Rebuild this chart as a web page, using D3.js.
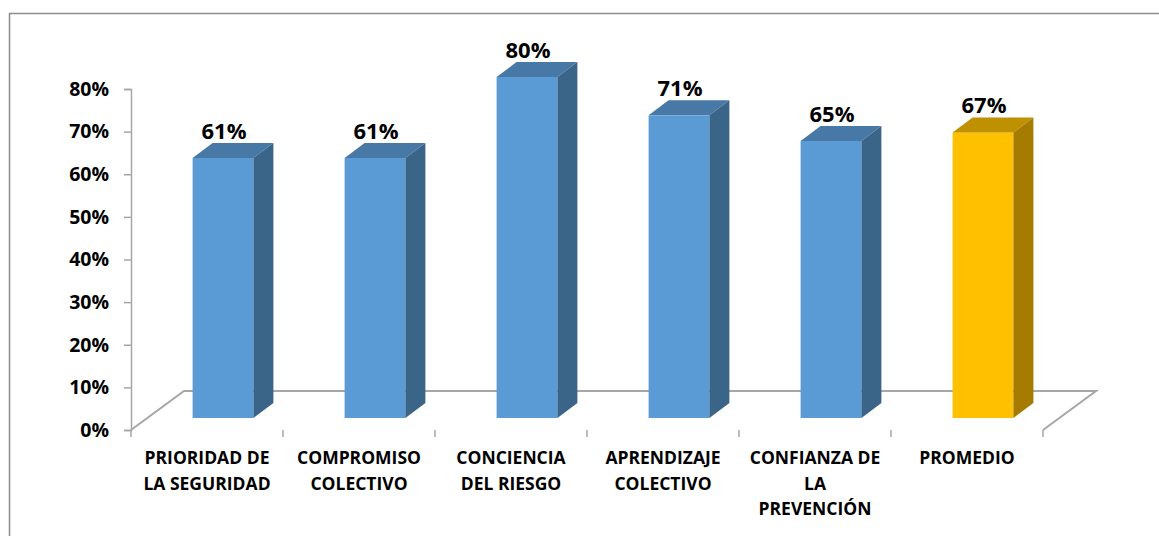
<!DOCTYPE html>
<html>
<head>
<meta charset="utf-8">
<script src="https://cdn.jsdelivr.net/npm/d3@7"></script>
<style>
  body { margin: 0; background: #fff; }
  text { font-family: 'Open Sans', sans-serif; font-weight: bold; fill: #000; }
</style>
</head>
<body>
<script>
(function () {
  'use strict'

  // data
  var categories = [
    ['PRIORIDAD DE', 'LA SEGURIDAD'],
    ['COMPROMISO', 'COLECTIVO'],
    ['CONCIENCIA', 'DEL RIESGO'],
    ['APRENDIZAJE', 'COLECTIVO'],
    ['CONFIANZA DE', 'LA', 'PREVENCIÓN'],
    ['PROMEDIO']
  ]
  var values = [0.61, 0.61, 0.80, 0.71, 0.65, 0.67]
  var highlight = [false, false, false, false, false, true]
  var yTicks = [0, 0.1, 0.2, 0.3, 0.4, 0.5, 0.6, 0.7, 0.8]

  var w = 1159
  var h = 536

  var blue = { front: '#5B9BD5', top: '#4878A6', side: '#3A6488' }
  var gold = { front: '#FFC000', top: '#BF9000', side: '#A67C00' }

  // floor depth and bar placement inside it
  var floorDx = 53
  var floorDy = -39
  var offDx = 16
  var offDy = -12
  var depDx = 20
  var depDy = -15

  var x = d3.scaleBand()
    .domain(d3.range(categories.length))
    .range([131, 1043])
  var y = d3.scaleLinear()
    .domain([0, 0.8])
    .range([430, 89])

  var svg = d3.select('body').append('svg')
    .attr('width', w)
    .attr('height', h)

  // outer frame (left and top edges visible)
  svg.append('path')
    .attr('d', 'M9.5,' + h + 'V13.5H' + w)
    .attr('fill', 'none')
    .attr('stroke', '#8c8c8c')
    .attr('stroke-width', 1.5)

  // floor
  var x0 = x.range()[0]
  var x1 = x.range()[1]
  var y0 = y(0)
  svg.append('path')
    .attr('d', 'M' + x0 + ',' + y0 + 'L' + (x0 + floorDx) + ',' + (y0 + floorDy) +
      'H' + (x1 + floorDx) + 'L' + x1 + ',' + y0)
    .attr('fill', 'none')
    .attr('stroke', '#a6a6a6')
    .attr('stroke-width', 2)

  // y axis
  var yAxis = svg.append('g')
    .attr('transform', 'translate(' + x0 + ',0)')
    .call(d3.axisLeft(y).tickValues(yTicks).tickFormat(d3.format('.0%'))
      .tickSize(7).tickPadding(15))
  yAxis.select('.domain').attr('stroke', '#a6a6a6').attr('stroke-width', 1.5)
  yAxis.selectAll('.tick line').attr('stroke', '#a6a6a6').attr('stroke-width', 1.5)
  yAxis.selectAll('.tick text')
    .attr('font-family', null)
    .style('font-size', '19.5px')

  // x axis ticks at band edges
  var edges = d3.range(categories.length + 1).map(function (i) {
    return x0 + i * x.step()
  })
  svg.selectAll('.xtick')
    .data(edges)
    .enter().append('line')
      .attr('class', 'xtick')
      .attr('x1', function (d) { return d })
      .attr('x2', function (d) { return d })
      .attr('y1', y0)
      .attr('y2', y0 + 7)
      .attr('stroke', '#a6a6a6')
      .attr('stroke-width', 1.5)

  // bars
  var bw = x.bandwidth() * 0.4
  var bars = svg.selectAll('.bar')
    .data(values)
    .enter().append('g')
      .attr('class', 'bar')

  function left (d, i) { return x(i) + x.bandwidth() / 2 + offDx - bw / 2 }
  function top (d) { return y(d) + offDy }
  var base = y0 + offDy

  bars.append('rect')
    .attr('x', left)
    .attr('y', top)
    .attr('width', bw)
    .attr('height', function (d) { return base - top(d) })
    .attr('fill', function (d, i) { return (highlight[i] ? gold : blue).front })

  bars.append('path')
    .attr('d', function (d, i) {
      var l = left(d, i)
      var t = top(d)
      return 'M' + l + ',' + t + 'L' + (l + depDx) + ',' + (t + depDy) +
        'H' + (l + bw + depDx) + 'L' + (l + bw) + ',' + t + 'Z'
    })
    .attr('fill', function (d, i) { return (highlight[i] ? gold : blue).top })

  bars.append('path')
    .attr('d', function (d, i) {
      var r = left(d, i) + bw
      var t = top(d)
      return 'M' + r + ',' + t + 'L' + (r + depDx) + ',' + (t + depDy) +
        'V' + (base + depDy) + 'L' + r + ',' + base + 'Z'
    })
    .attr('fill', function (d, i) { return (highlight[i] ? gold : blue).side })

  // value labels
  bars.append('text')
    .attr('x', function (d, i) { return left(d, i) + bw / 2 + 1 })
    .attr('y', function (d) { return top(d) + depDy - 4 })
    .attr('text-anchor', 'middle')
    .style('font-size', '22px')
    .text(function (d) { return d3.format('.0%')(d) })

  // category labels
  svg.selectAll('.cat')
    .data(categories)
    .enter().append('text')
      .attr('class', 'cat')
      .attr('text-anchor', 'middle')
      .style('font-size', '17.5px')
      .attr('transform', function (d, i) {
        return 'translate(' + (x(i) + x.bandwidth() / 2) + ',464)'
      })
    .selectAll('tspan')
    .data(function (d) { return d })
    .enter().append('tspan')
      .attr('x', 0)
      .attr('y', function (d, i) { return i * 25.5 })
      .text(function (d) { return d })
}())
</script>
</body>
</html>
